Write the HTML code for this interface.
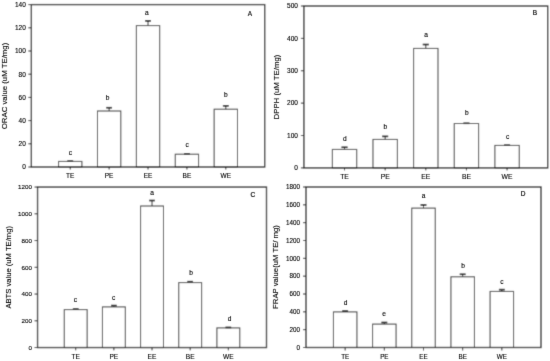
<!DOCTYPE html>
<html><head><meta charset="utf-8"><style>
html,body{margin:0;padding:0;background:#fff;overflow:hidden;}
svg{display:block;}
text{font-family:"Liberation Sans",sans-serif;fill:#000;stroke:#000;stroke-width:0.12px;}
</style></head><body>
<svg width="550" height="361" viewBox="0 0 550 361">
<defs><filter id="bl" x="0" y="0" width="550" height="361" filterUnits="userSpaceOnUse" primitiveUnits="userSpaceOnUse"><feConvolveMatrix order="3" kernelMatrix="0.0225 0.1050 0.0225 0.1050 0.4900 0.1050 0.0225 0.1050 0.0225" divisor="1" edgeMode="duplicate"/></filter><filter id="bt" x="0" y="0" width="550" height="361" filterUnits="userSpaceOnUse" primitiveUnits="userSpaceOnUse"><feConvolveMatrix order="3" kernelMatrix="0.0064 0.0672 0.0064 0.0672 0.7056 0.0672 0.0064 0.0672 0.0064" divisor="1" edgeMode="duplicate"/></filter></defs>
<g filter="url(#bl)"><rect width="550" height="361" fill="#fff"/>
<rect x="58.57" y="161.40" width="23.33" height="5.60" fill="#fff" stroke="#333" stroke-width="1"/>
<path d="M70.24 161.40V161.11" stroke="#333" stroke-width="1" fill="none"/>
<path d="M67.32 161.11H73.16" stroke="#000" stroke-width="1.6" fill="none"/>
<line x1="70.24" y1="167.00" x2="70.24" y2="169.50" stroke="#222" stroke-width="1"/>
<rect x="97.47" y="111.00" width="23.33" height="56.00" fill="#fff" stroke="#333" stroke-width="1"/>
<path d="M109.13 111.00V107.70" stroke="#333" stroke-width="1" fill="none"/>
<path d="M106.22 107.70H112.05" stroke="#000" stroke-width="1.6" fill="none"/>
<line x1="109.13" y1="167.00" x2="109.13" y2="169.50" stroke="#222" stroke-width="1"/>
<rect x="136.36" y="25.60" width="23.33" height="141.40" fill="#fff" stroke="#333" stroke-width="1"/>
<path d="M148.03 25.60V20.84" stroke="#333" stroke-width="1" fill="none"/>
<path d="M145.11 20.84H150.94" stroke="#000" stroke-width="1.6" fill="none"/>
<line x1="148.03" y1="167.00" x2="148.03" y2="169.50" stroke="#222" stroke-width="1"/>
<rect x="175.25" y="154.21" width="23.33" height="12.79" fill="#fff" stroke="#333" stroke-width="1"/>
<path d="M186.92 154.21V153.80" stroke="#333" stroke-width="1" fill="none"/>
<path d="M184.00 153.80H189.83" stroke="#000" stroke-width="1.6" fill="none"/>
<line x1="186.92" y1="167.00" x2="186.92" y2="169.50" stroke="#222" stroke-width="1"/>
<rect x="214.14" y="109.20" width="23.33" height="57.80" fill="#fff" stroke="#333" stroke-width="1"/>
<path d="M225.81 109.20V105.80" stroke="#333" stroke-width="1" fill="none"/>
<path d="M222.89 105.80H228.73" stroke="#000" stroke-width="1.6" fill="none"/>
<line x1="225.81" y1="167.00" x2="225.81" y2="169.50" stroke="#222" stroke-width="1"/>
<rect x="31.35" y="4.6" width="233.35" height="162.40" fill="none" stroke="#222" stroke-width="1.35"/>
<line x1="28.35" y1="167.00" x2="31.35" y2="167.00" stroke="#222" stroke-width="1"/>
<line x1="28.35" y1="143.80" x2="31.35" y2="143.80" stroke="#222" stroke-width="1"/>
<line x1="28.35" y1="120.60" x2="31.35" y2="120.60" stroke="#222" stroke-width="1"/>
<line x1="28.35" y1="97.40" x2="31.35" y2="97.40" stroke="#222" stroke-width="1"/>
<line x1="28.35" y1="74.20" x2="31.35" y2="74.20" stroke="#222" stroke-width="1"/>
<line x1="28.35" y1="51.00" x2="31.35" y2="51.00" stroke="#222" stroke-width="1"/>
<line x1="28.35" y1="27.80" x2="31.35" y2="27.80" stroke="#222" stroke-width="1"/>
<line x1="28.35" y1="4.60" x2="31.35" y2="4.60" stroke="#222" stroke-width="1"/>
<rect x="332.34" y="149.40" width="24.38" height="18.50" fill="#fff" stroke="#333" stroke-width="1"/>
<path d="M344.53 149.40V147.30" stroke="#333" stroke-width="1" fill="none"/>
<path d="M341.49 147.30H347.58" stroke="#000" stroke-width="1.6" fill="none"/>
<line x1="344.53" y1="167.90" x2="344.53" y2="170.40" stroke="#222" stroke-width="1"/>
<rect x="372.98" y="139.41" width="24.38" height="28.49" fill="#fff" stroke="#333" stroke-width="1"/>
<path d="M385.17 139.41V136.39" stroke="#333" stroke-width="1" fill="none"/>
<path d="M382.12 136.39H388.21" stroke="#000" stroke-width="1.6" fill="none"/>
<line x1="385.17" y1="167.90" x2="385.17" y2="170.40" stroke="#222" stroke-width="1"/>
<rect x="413.61" y="48.40" width="24.38" height="119.50" fill="#fff" stroke="#333" stroke-width="1"/>
<path d="M425.80 48.40V44.52" stroke="#333" stroke-width="1" fill="none"/>
<path d="M422.75 44.52H428.85" stroke="#000" stroke-width="1.6" fill="none"/>
<line x1="425.80" y1="167.90" x2="425.80" y2="170.40" stroke="#222" stroke-width="1"/>
<rect x="454.24" y="123.51" width="24.38" height="44.39" fill="#fff" stroke="#333" stroke-width="1"/>
<path d="M466.43 123.51V123.28" stroke="#333" stroke-width="1" fill="none"/>
<path d="M463.39 123.28H469.48" stroke="#000" stroke-width="1.6" fill="none"/>
<line x1="466.43" y1="167.90" x2="466.43" y2="170.40" stroke="#222" stroke-width="1"/>
<rect x="494.88" y="145.40" width="24.38" height="22.50" fill="#fff" stroke="#333" stroke-width="1"/>
<path d="M507.07 145.40V145.20" stroke="#333" stroke-width="1" fill="none"/>
<path d="M504.02 145.20H510.11" stroke="#000" stroke-width="1.6" fill="none"/>
<line x1="507.07" y1="167.90" x2="507.07" y2="170.40" stroke="#222" stroke-width="1"/>
<rect x="303.9" y="6.0" width="243.80" height="161.90" fill="none" stroke="#222" stroke-width="1.35"/>
<line x1="300.90" y1="167.90" x2="303.90" y2="167.90" stroke="#222" stroke-width="1"/>
<line x1="300.90" y1="135.52" x2="303.90" y2="135.52" stroke="#222" stroke-width="1"/>
<line x1="300.90" y1="103.14" x2="303.90" y2="103.14" stroke="#222" stroke-width="1"/>
<line x1="300.90" y1="70.76" x2="303.90" y2="70.76" stroke="#222" stroke-width="1"/>
<line x1="300.90" y1="38.38" x2="303.90" y2="38.38" stroke="#222" stroke-width="1"/>
<line x1="300.90" y1="6.00" x2="303.90" y2="6.00" stroke="#222" stroke-width="1"/>
<rect x="64.26" y="309.61" width="22.89" height="37.94" fill="#fff" stroke="#333" stroke-width="1"/>
<path d="M75.71 309.61V309.00" stroke="#333" stroke-width="1" fill="none"/>
<path d="M72.85 309.00H78.57" stroke="#000" stroke-width="1.6" fill="none"/>
<line x1="75.71" y1="347.55" x2="75.71" y2="350.35" stroke="#222" stroke-width="1"/>
<rect x="102.42" y="306.90" width="22.89" height="40.65" fill="#fff" stroke="#333" stroke-width="1"/>
<path d="M113.87 306.90V305.57" stroke="#333" stroke-width="1" fill="none"/>
<path d="M111.00 305.57H116.73" stroke="#000" stroke-width="1.6" fill="none"/>
<line x1="113.87" y1="347.55" x2="113.87" y2="350.35" stroke="#222" stroke-width="1"/>
<rect x="140.58" y="206.00" width="22.89" height="141.55" fill="#fff" stroke="#333" stroke-width="1"/>
<path d="M152.02 206.00V200.52" stroke="#333" stroke-width="1" fill="none"/>
<path d="M149.16 200.52H154.89" stroke="#000" stroke-width="1.6" fill="none"/>
<line x1="152.02" y1="347.55" x2="152.02" y2="350.35" stroke="#222" stroke-width="1"/>
<rect x="178.74" y="282.60" width="22.89" height="64.95" fill="#fff" stroke="#333" stroke-width="1"/>
<path d="M190.18 282.60V281.66" stroke="#333" stroke-width="1" fill="none"/>
<path d="M187.32 281.66H193.05" stroke="#000" stroke-width="1.6" fill="none"/>
<line x1="190.18" y1="347.55" x2="190.18" y2="350.35" stroke="#222" stroke-width="1"/>
<rect x="216.89" y="327.90" width="22.89" height="19.65" fill="#fff" stroke="#333" stroke-width="1"/>
<path d="M228.34 327.90V327.43" stroke="#333" stroke-width="1" fill="none"/>
<path d="M225.48 327.43H231.20" stroke="#000" stroke-width="1.6" fill="none"/>
<line x1="228.34" y1="347.55" x2="228.34" y2="350.35" stroke="#222" stroke-width="1"/>
<rect x="37.55" y="187.05" width="228.95" height="160.50" fill="none" stroke="#222" stroke-width="1.35"/>
<line x1="34.55" y1="347.55" x2="37.55" y2="347.55" stroke="#222" stroke-width="1"/>
<line x1="34.55" y1="320.80" x2="37.55" y2="320.80" stroke="#222" stroke-width="1"/>
<line x1="34.55" y1="294.05" x2="37.55" y2="294.05" stroke="#222" stroke-width="1"/>
<line x1="34.55" y1="267.30" x2="37.55" y2="267.30" stroke="#222" stroke-width="1"/>
<line x1="34.55" y1="240.55" x2="37.55" y2="240.55" stroke="#222" stroke-width="1"/>
<line x1="34.55" y1="213.80" x2="37.55" y2="213.80" stroke="#222" stroke-width="1"/>
<line x1="34.55" y1="187.05" x2="37.55" y2="187.05" stroke="#222" stroke-width="1"/>
<rect x="333.42" y="311.90" width="23.50" height="35.60" fill="#fff" stroke="#333" stroke-width="1"/>
<path d="M345.17 311.90V311.01" stroke="#333" stroke-width="1" fill="none"/>
<path d="M342.23 311.01H348.10" stroke="#000" stroke-width="1.6" fill="none"/>
<line x1="345.17" y1="347.50" x2="345.17" y2="350.50" stroke="#222" stroke-width="1"/>
<rect x="372.58" y="324.10" width="23.50" height="23.40" fill="#fff" stroke="#333" stroke-width="1"/>
<path d="M384.33 324.10V322.50" stroke="#333" stroke-width="1" fill="none"/>
<path d="M381.40 322.50H387.27" stroke="#000" stroke-width="1.6" fill="none"/>
<line x1="384.33" y1="347.50" x2="384.33" y2="350.50" stroke="#222" stroke-width="1"/>
<rect x="411.75" y="208.11" width="23.50" height="139.39" fill="#fff" stroke="#333" stroke-width="1"/>
<path d="M423.50 208.11V204.98" stroke="#333" stroke-width="1" fill="none"/>
<path d="M420.56 204.98H426.44" stroke="#000" stroke-width="1.6" fill="none"/>
<line x1="423.50" y1="347.50" x2="423.50" y2="350.50" stroke="#222" stroke-width="1"/>
<rect x="450.92" y="276.80" width="23.50" height="70.70" fill="#fff" stroke="#333" stroke-width="1"/>
<path d="M462.67 276.80V274.30" stroke="#333" stroke-width="1" fill="none"/>
<path d="M459.73 274.30H465.60" stroke="#000" stroke-width="1.6" fill="none"/>
<line x1="462.67" y1="347.50" x2="462.67" y2="350.50" stroke="#222" stroke-width="1"/>
<rect x="490.08" y="291.41" width="23.50" height="56.09" fill="#fff" stroke="#333" stroke-width="1"/>
<path d="M501.83 291.41V289.62" stroke="#333" stroke-width="1" fill="none"/>
<path d="M498.90 289.62H504.77" stroke="#000" stroke-width="1.6" fill="none"/>
<line x1="501.83" y1="347.50" x2="501.83" y2="350.50" stroke="#222" stroke-width="1"/>
<rect x="306.0" y="187.0" width="235.00" height="160.50" fill="none" stroke="#222" stroke-width="1.35"/>
<line x1="303.00" y1="347.50" x2="306.00" y2="347.50" stroke="#222" stroke-width="1"/>
<line x1="303.00" y1="329.67" x2="306.00" y2="329.67" stroke="#222" stroke-width="1"/>
<line x1="303.00" y1="311.83" x2="306.00" y2="311.83" stroke="#222" stroke-width="1"/>
<line x1="303.00" y1="294.00" x2="306.00" y2="294.00" stroke="#222" stroke-width="1"/>
<line x1="303.00" y1="276.17" x2="306.00" y2="276.17" stroke="#222" stroke-width="1"/>
<line x1="303.00" y1="258.33" x2="306.00" y2="258.33" stroke="#222" stroke-width="1"/>
<line x1="303.00" y1="240.50" x2="306.00" y2="240.50" stroke="#222" stroke-width="1"/>
<line x1="303.00" y1="222.67" x2="306.00" y2="222.67" stroke="#222" stroke-width="1"/>
<line x1="303.00" y1="204.83" x2="306.00" y2="204.83" stroke="#222" stroke-width="1"/>
<line x1="303.00" y1="187.00" x2="306.00" y2="187.00" stroke="#222" stroke-width="1"/>
</g><g filter="url(#bt)">
<text x="70.30" y="154.80" font-size="6.6" text-anchor="middle">c</text>
<text x="70.24" y="177.80" font-size="6.5" text-anchor="middle">TE</text>
<text x="107.70" y="99.60" font-size="6.6" text-anchor="middle">b</text>
<text x="109.13" y="177.80" font-size="6.5" text-anchor="middle">PE</text>
<text x="146.80" y="14.60" font-size="6.6" text-anchor="middle">a</text>
<text x="148.03" y="177.80" font-size="6.5" text-anchor="middle">EE</text>
<text x="187.20" y="147.10" font-size="6.6" text-anchor="middle">c</text>
<text x="186.92" y="177.80" font-size="6.5" text-anchor="middle">BE</text>
<text x="225.80" y="97.40" font-size="6.6" text-anchor="middle">b</text>
<text x="225.81" y="177.80" font-size="6.5" text-anchor="middle">WE</text>
<text x="25.85" y="169.30" font-size="6.5" text-anchor="end">0</text>
<text x="25.85" y="146.10" font-size="6.5" text-anchor="end">20</text>
<text x="25.85" y="122.90" font-size="6.5" text-anchor="end">40</text>
<text x="25.85" y="99.70" font-size="6.5" text-anchor="end">60</text>
<text x="25.85" y="76.50" font-size="6.5" text-anchor="end">80</text>
<text x="25.85" y="53.30" font-size="6.5" text-anchor="end">100</text>
<text x="25.85" y="30.10" font-size="6.5" text-anchor="end">120</text>
<text x="25.85" y="6.90" font-size="6.5" text-anchor="end">140</text>
<text transform="translate(6.5,86.0) rotate(-90)" font-size="7.8" text-anchor="middle">ORAC value (uM TE/mg)</text>
<text x="249.9" y="15.8" font-size="6.5" text-anchor="middle" style="stroke-width:0.12px">A</text>
<text x="344.80" y="140.80" font-size="6.6" text-anchor="middle">d</text>
<text x="344.53" y="178.70" font-size="6.8" text-anchor="middle">TE</text>
<text x="385.40" y="129.30" font-size="6.6" text-anchor="middle">b</text>
<text x="385.17" y="178.70" font-size="6.8" text-anchor="middle">PE</text>
<text x="426.20" y="36.80" font-size="6.6" text-anchor="middle">a</text>
<text x="425.80" y="178.70" font-size="6.8" text-anchor="middle">EE</text>
<text x="466.80" y="115.30" font-size="6.6" text-anchor="middle">b</text>
<text x="466.43" y="178.70" font-size="6.8" text-anchor="middle">BE</text>
<text x="507.60" y="138.70" font-size="6.6" text-anchor="middle">c</text>
<text x="507.07" y="178.70" font-size="6.8" text-anchor="middle">WE</text>
<text x="297.90" y="170.20" font-size="6.5" text-anchor="end">0</text>
<text x="297.90" y="137.82" font-size="6.5" text-anchor="end">100</text>
<text x="297.90" y="105.44" font-size="6.5" text-anchor="end">200</text>
<text x="297.90" y="73.06" font-size="6.5" text-anchor="end">300</text>
<text x="297.90" y="40.68" font-size="6.5" text-anchor="end">400</text>
<text x="297.90" y="8.30" font-size="6.5" text-anchor="end">500</text>
<text transform="translate(278.7,87.0) rotate(-90)" font-size="7.8" text-anchor="middle">DPPH (uM TE/mg)</text>
<text x="535" y="15.2" font-size="6.5" text-anchor="middle" style="stroke-width:0.2px">B</text>
<text x="75.50" y="302.40" font-size="6.6" text-anchor="middle">c</text>
<text x="75.71" y="359.05" font-size="6.6" text-anchor="middle">TE</text>
<text x="113.70" y="299.80" font-size="6.6" text-anchor="middle">c</text>
<text x="113.87" y="359.05" font-size="6.6" text-anchor="middle">PE</text>
<text x="152.00" y="194.50" font-size="6.6" text-anchor="middle">a</text>
<text x="152.02" y="359.05" font-size="6.6" text-anchor="middle">EE</text>
<text x="191.20" y="274.80" font-size="6.6" text-anchor="middle">b</text>
<text x="190.18" y="359.05" font-size="6.6" text-anchor="middle">BE</text>
<text x="229.50" y="321.20" font-size="6.6" text-anchor="middle">d</text>
<text x="228.34" y="359.05" font-size="6.6" text-anchor="middle">WE</text>
<text x="31.95" y="349.85" font-size="6.25" text-anchor="end">0</text>
<text x="31.95" y="323.10" font-size="6.25" text-anchor="end">200</text>
<text x="31.95" y="296.35" font-size="6.25" text-anchor="end">400</text>
<text x="31.95" y="269.60" font-size="6.25" text-anchor="end">600</text>
<text x="31.95" y="242.85" font-size="6.25" text-anchor="end">800</text>
<text x="31.95" y="216.10" font-size="6.25" text-anchor="end">1000</text>
<text x="31.95" y="189.35" font-size="6.25" text-anchor="end">1200</text>
<text transform="translate(10.9,267.3) rotate(-90)" font-size="7.63" text-anchor="middle">ABTS value (uM TE/mg)</text>
<text x="252.8" y="196.5" font-size="6.5" text-anchor="middle" style="stroke-width:0.2px">C</text>
<text x="345.50" y="304.80" font-size="6.6" text-anchor="middle">d</text>
<text x="345.17" y="358.80" font-size="6.3" text-anchor="middle">TE</text>
<text x="384.10" y="315.70" font-size="6.6" text-anchor="middle">e</text>
<text x="384.33" y="358.80" font-size="6.3" text-anchor="middle">PE</text>
<text x="423.70" y="198.10" font-size="6.6" text-anchor="middle">a</text>
<text x="423.50" y="358.80" font-size="6.3" text-anchor="middle">EE</text>
<text x="463.00" y="268.00" font-size="6.6" text-anchor="middle">b</text>
<text x="462.67" y="358.80" font-size="6.3" text-anchor="middle">BE</text>
<text x="501.80" y="284.00" font-size="6.6" text-anchor="middle">c</text>
<text x="501.83" y="358.80" font-size="6.3" text-anchor="middle">WE</text>
<text x="300.10" y="349.80" font-size="6.3" text-anchor="end">0</text>
<text x="300.10" y="331.97" font-size="6.3" text-anchor="end">200</text>
<text x="300.10" y="314.13" font-size="6.3" text-anchor="end">400</text>
<text x="300.10" y="296.30" font-size="6.3" text-anchor="end">600</text>
<text x="300.10" y="278.47" font-size="6.3" text-anchor="end">800</text>
<text x="300.10" y="260.63" font-size="6.3" text-anchor="end">1000</text>
<text x="300.10" y="242.80" font-size="6.3" text-anchor="end">1200</text>
<text x="300.10" y="224.97" font-size="6.3" text-anchor="end">1400</text>
<text x="300.10" y="207.13" font-size="6.3" text-anchor="end">1600</text>
<text x="300.10" y="189.30" font-size="6.3" text-anchor="end">1800</text>
<text transform="translate(278.2,267.0) rotate(-90)" font-size="7.72" text-anchor="middle">FRAP value(uM TE/ mg)</text>
<text x="523.0" y="195.7" font-size="6.5" text-anchor="middle" style="stroke-width:0.2px">D</text>
</g></svg>
</body></html>
